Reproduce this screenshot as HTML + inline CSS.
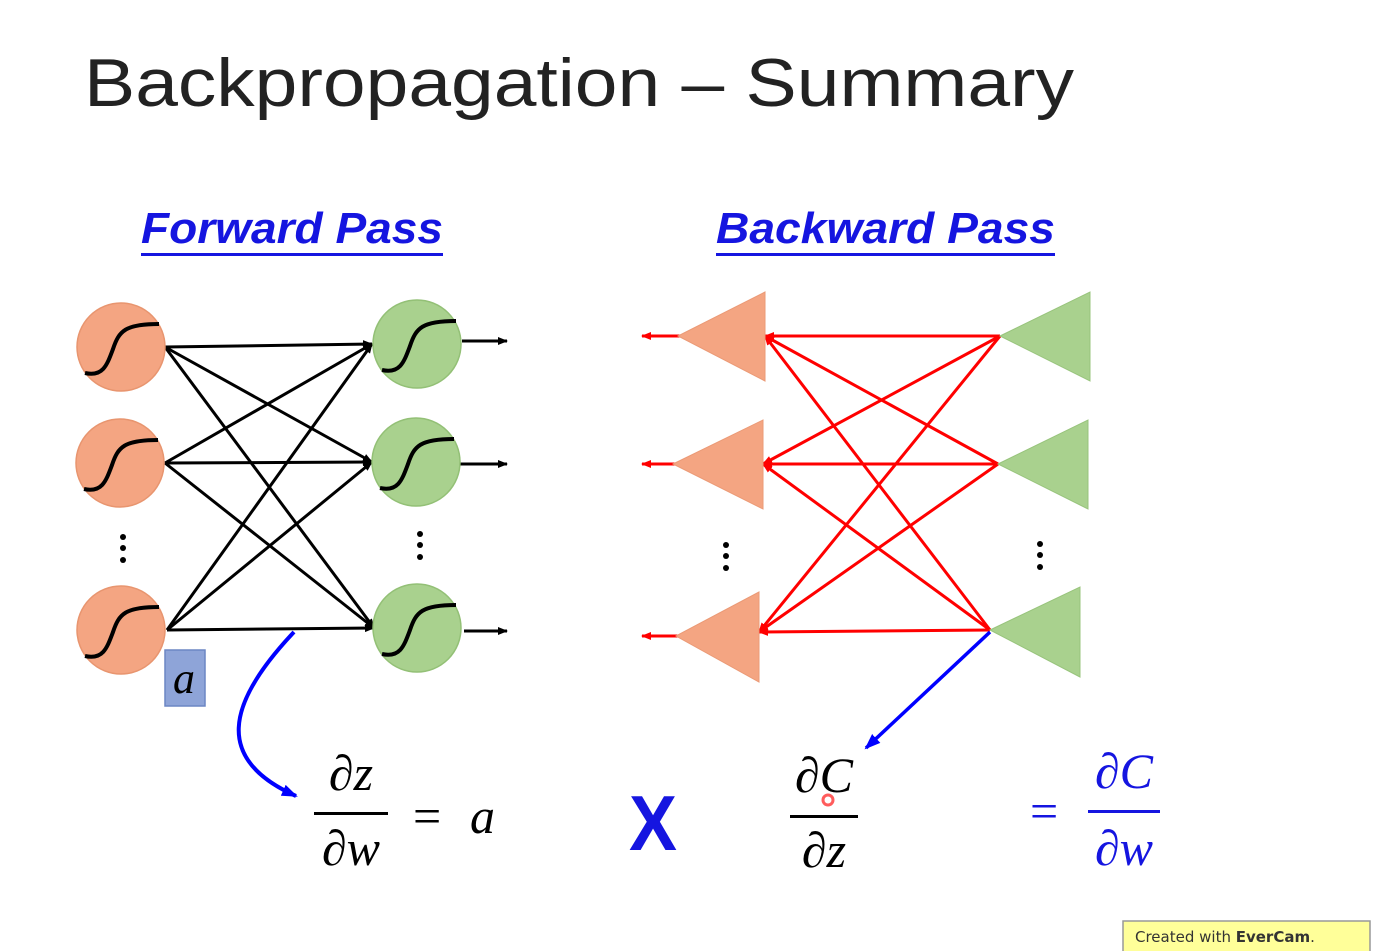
<!DOCTYPE html>
<html><head><meta charset="utf-8"><style>
html,body{margin:0;padding:0;background:#fff;}
svg{display:block;}
</style></head><body>
<svg width="1384" height="951" viewBox="0 0 1384 951" xmlns="http://www.w3.org/2000/svg">
<defs>
<marker id="ab" markerWidth="10" markerHeight="8" refX="9" refY="4" orient="auto" markerUnits="userSpaceOnUse"><path d="M0,0 L10,4 L0,8 Z" fill="#000"/></marker>
<marker id="ar" markerWidth="10" markerHeight="8" refX="9" refY="4" orient="auto" markerUnits="userSpaceOnUse"><path d="M0,0 L10,4 L0,8 Z" fill="#f00"/></marker>
<marker id="abl" markerWidth="16" markerHeight="12" refX="14" refY="6" orient="auto" markerUnits="userSpaceOnUse"><path d="M0,0 L16,6 L0,12 Z" fill="#00f"/></marker>
<g id="sig"><path d="M-38,24 C-20,28 -16,16 -10,0 C-4,-18 2,-25 36,-25" fill="none" stroke="#000" stroke-width="4"/></g>
</defs>
<text x="84" y="106" font-family="Liberation Sans, sans-serif" font-size="68" fill="#222" textLength="990" lengthAdjust="spacingAndGlyphs">Backpropagation – Summary</text>
<text x="141" y="243" font-family="Liberation Sans, sans-serif" font-size="44" font-weight="bold" font-style="italic" fill="#1515e0" textLength="302" lengthAdjust="spacingAndGlyphs">Forward Pass</text>
<rect x="141" y="253" width="302" height="3" fill="#1515e0"/>
<text x="716" y="243" font-family="Liberation Sans, sans-serif" font-size="44" font-weight="bold" font-style="italic" fill="#1515e0" textLength="339" lengthAdjust="spacingAndGlyphs">Backward Pass</text>
<rect x="716" y="253" width="339" height="3" fill="#1515e0"/>

<g stroke="#000" stroke-width="3" marker-end="url(#ab)">
<line x1="165" y1="347" x2="372" y2="344"/><line x1="165" y1="347" x2="372" y2="462"/><line x1="165" y1="347" x2="374" y2="628"/>
<line x1="165" y1="463" x2="372" y2="344"/><line x1="165" y1="463" x2="372" y2="462"/><line x1="165" y1="463" x2="374" y2="628"/>
<line x1="167" y1="630" x2="372" y2="344"/><line x1="167" y1="630" x2="372" y2="462"/><line x1="167" y1="630" x2="374" y2="628"/>
</g>
<g stroke="#000" stroke-width="3" marker-end="url(#ab)">
<line x1="462" y1="341" x2="507" y2="341"/><line x1="460" y1="464" x2="507" y2="464"/><line x1="464" y1="631" x2="507" y2="631"/>
</g>
<g fill="#f4a582" stroke="#e8956f" stroke-width="1.5">
<circle cx="121" cy="347" r="44"/><circle cx="120" cy="463" r="44"/><circle cx="121" cy="630" r="44"/>
</g>
<g fill="#a9d18e" stroke="#93c076" stroke-width="1.5">
<circle cx="417" cy="344" r="44"/><circle cx="416" cy="462" r="44"/><circle cx="417" cy="628" r="44"/>
</g>
<use href="#sig" x="123" y="349"/><use href="#sig" x="122" y="465"/><use href="#sig" x="123" y="632"/>
<use href="#sig" x="420" y="346"/><use href="#sig" x="418" y="464"/><use href="#sig" x="420" y="630"/>
<g fill="#000"><circle cx="123" cy="537" r="3"/><circle cx="123" cy="548" r="3"/><circle cx="123" cy="560" r="3"/>
<circle cx="420" cy="534" r="3"/><circle cx="420" cy="545" r="3"/><circle cx="420" cy="557" r="3"/>
<circle cx="726" cy="545" r="3"/><circle cx="726" cy="556" r="3"/><circle cx="726" cy="568" r="3"/>
<circle cx="1040" cy="544" r="3"/><circle cx="1040" cy="555" r="3"/><circle cx="1040" cy="567" r="3"/></g>
<rect x="165" y="650" width="40" height="56" fill="#8ea4d8" stroke="#6c86c4" stroke-width="1.5"/>
<text x="184" y="693" text-anchor="middle" font-family="Liberation Serif, serif" font-style="italic" font-size="44">a</text>
<path d="M294,632 C225,705 215,760 296,796" fill="none" stroke="#00f" stroke-width="4" marker-end="url(#abl)"/>

<g stroke="#f00" stroke-width="3" marker-end="url(#ar)">
<line x1="1000" y1="336" x2="765" y2="336"/><line x1="1000" y1="336" x2="763" y2="464"/><line x1="1000" y1="336" x2="759" y2="632"/>
<line x1="998" y1="464" x2="765" y2="336"/><line x1="998" y1="464" x2="763" y2="464"/><line x1="998" y1="464" x2="759" y2="632"/>
<line x1="990" y1="630" x2="765" y2="336"/><line x1="990" y1="630" x2="763" y2="464"/><line x1="990" y1="630" x2="759" y2="632"/>
<line x1="680" y1="336" x2="642" y2="336"/><line x1="675" y1="464" x2="642" y2="464"/><line x1="678" y1="636" x2="642" y2="636"/>
</g>
<g fill="#f4a582" stroke="#eb9a76" stroke-width="1"><polygon points="678,336 765,292 765,381"/><polygon points="673,464 763,420 763,509"/><polygon points="676,636 759,592 759,682"/></g>
<g fill="#a9d18e" stroke="#98c47c" stroke-width="1"><polygon points="1000,336 1090,292 1090,381"/><polygon points="998,464 1088,420 1088,509"/><polygon points="990,630 1080,587 1080,677"/></g>
<line x1="990" y1="632" x2="866" y2="748" stroke="#00f" stroke-width="3.5" marker-end="url(#abl)"/>

<g font-family="Liberation Serif, DejaVu Serif, serif" font-style="italic" font-size="50">
<text x="351" y="790" text-anchor="middle">∂z</text>
<rect x="314" y="812" width="74" height="3" fill="#000"/>
<text x="351" y="865" text-anchor="middle">∂w</text>
<text x="413" y="833" font-style="normal">=</text>
<text x="470" y="833">a</text>
<text x="824" y="792" text-anchor="middle">∂C</text>
<rect x="790" y="815" width="68" height="3" fill="#000"/>
<text x="824" y="867" text-anchor="middle">∂z</text>
<g fill="#1515e0">
<text x="1124" y="788" text-anchor="middle">∂C</text>
<rect x="1088" y="810" width="72" height="3"/>
<text x="1124" y="865" text-anchor="middle">∂w</text>
<text x="1030" y="828" font-style="normal">=</text>
</g>
</g>
<text x="629" y="850" font-family="Liberation Sans, sans-serif" font-size="78" font-weight="bold" fill="#1515e0" textLength="48" lengthAdjust="spacingAndGlyphs">X</text>
<circle cx="828" cy="800" r="5" fill="none" stroke="#f33" stroke-width="3" opacity="0.8"/>

<rect x="1123" y="921" width="247" height="34" fill="#ffff99" stroke="#999" stroke-width="1.5"/>
<text x="1135" y="942" font-family="DejaVu Sans, sans-serif" font-size="15" fill="#333">Created with <tspan font-weight="bold">EverCam</tspan>.</text>
</svg>
</body></html>
